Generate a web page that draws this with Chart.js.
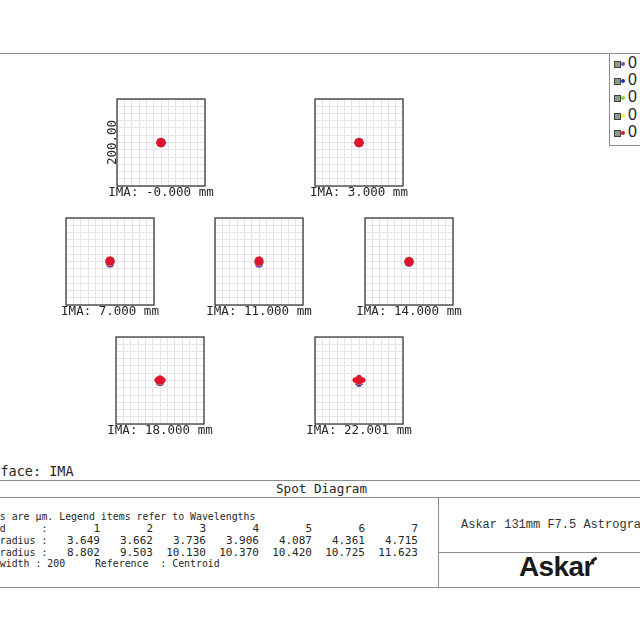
<!DOCTYPE html>
<html>
<head>
<meta charset="utf-8">
<script src="https://cdn.jsdelivr.net/npm/chart.js@4.4.1/dist/chart.umd.min.js"></script>
<style>
  html, body { margin: 0; padding: 0; background: #fff; }
  #page { position: relative; width: 640px; height: 640px; overflow: hidden; background: #fff;
          font-family: "DejaVu Sans Mono", monospace; color: #262626; }
  #page canvas { position: absolute; }
  .hl { position: absolute; height: 1px; background: #8c8c8c; }
  .vl { position: absolute; width: 1px; background: #8c8c8c; }
  .txt { position: absolute; white-space: pre; }
  #legend { position: absolute; left: 609px; top: 53px; width: 40px; height: 92px;
            border-left: 1px solid #8c8c8c; border-bottom: 1px solid #8c8c8c; }
  .li { position: absolute; left: 0; height: 16px; }
  .li .ico { position: absolute; left: 4px; top: 5px; width: 5px; height: 5px; background: #8f9a8f; border: 1px solid #3c443c; }
  .li .dot { position: absolute; left: 11px; top: 6px; width: 4px; height: 4px; border-radius: 50%; }
  .li .lab { position: absolute; left: 18px; top: -2px; width: 9.5px; overflow: hidden; white-space: nowrap;
             font: 16px "Liberation Sans", Arial, sans-serif; color: #222; }
  .row { position: absolute; left: 0; height: 12px; width: 440px; }
  .row .k { position: absolute; left: -24px; top: 0; white-space: pre; font: 9.9px/12px "DejaVu Sans Mono", monospace; }
  .row .n { position: absolute; top: 0; white-space: pre; text-align: right; width: 60px; font: 11px/12px "DejaVu Sans Mono", monospace; }
  #logo { position: absolute; left: 519px; top: 551px; font: bold 28px "Liberation Sans", Arial, sans-serif; color: #1a1a1a; letter-spacing: -0.6px; }
  #logo i { position: absolute; right: -3px; top: 7px; width: 6px; height: 2.5px; background: #1a1a1a; transform: rotate(-35deg); }
</style>
</head>
<body>
<div id="page">
  <div class="hl" style="left:0;top:53px;width:640px"></div>
  <div id="legend"></div>
  <div class="txt" style="left:-24px;top:463px;font-size:13.5px">Surface: IMA</div>
  <div class="hl" style="left:0;top:480px;width:640px"></div>
  <div class="txt" style="left:276px;top:481px;font-size:12.6px">Spot Diagram</div>
  <div class="hl" style="left:0;top:497px;width:640px"></div>
  <div class="vl" style="left:438px;top:497px;height:90px"></div>
  <div class="hl" style="left:438px;top:552px;width:202px"></div>
  <div class="hl" style="left:0;top:587px;width:640px"></div>
  <div id="info"></div>
  <div class="txt" style="left:461px;top:518px;font:12px 'Liberation Mono', monospace;color:#333">Askar 131mm F7.5 Astrograph</div>
  <div id="logo">Askar<i></i></div>
</div>
<script>
// wavelengths (legend) and their colours
const wavelengths = ["0.4358", "0.4861", "0.5461", "0.5876", "0.6563"];
const waveColors = ["#8a4bb0", "#1c2fb8", "#86d24a", "#f0f060", "#e0142c"];

// fields and summary numbers
const fieldLabels = ["-0.000", "3.000", "7.000", "11.000", "14.000", "18.000", "22.001"];
const rmsRadius = [3.649, 3.662, 3.736, 3.906, 4.087, 4.361, 4.715];
const geoRadius = [8.802, 9.503, 10.130, 10.370, 10.420, 10.725, 11.623];
const boxWidth = 200;

// ray hits in um per field: [purple, blue, green, yellow, red]
const spots0 = [
  [[0,0],[5,0],[-5,0],[0,5],[0,-5],[3.5,3.5],[-3.5,3.5],[3.5,-3.5],[-3.5,-3.5]],
  [[0,0],[4,0],[-4,0],[0,4],[0,-4],[3,3],[-3,3],[3,-3],[-3,-3]],
  [[0,0],[4,0],[-4,0],[0,4],[0,-4],[3,3],[-3,3],[3,-3],[-3,-3]],
  [[0,0],[4,0],[-4,0],[0,4],[0,-4],[3,3],[-3,3],[3,-3],[-3,-3]],
  [[0,0],[5,0],[-5,0],[0,5],[0,-5],[3.5,3.5],[-3.5,3.5],[3.5,-3.5],[-3.5,-3.5]]
];
const spots3 = [
  [[0,-1],[4,-1],[-4,-1],[0,3],[0,-5],[3,2],[-3,2],[3,-4],[-3,-4]],
  [[0,0],[4,0],[-4,0],[0,4],[0,-4],[3,3],[-3,3],[3,-3],[-3,-3]],
  [[0,0],[4,0],[-4,0],[0,4],[0,-4],[3,3],[-3,3],[3,-3],[-3,-3]],
  [[0,0],[4,0],[-4,0],[0,4],[0,-4],[3,3],[-3,3],[3,-3],[-3,-3]],
  [[0,0],[5,0],[-5,0],[0,5],[0,-5],[3.5,3.5],[-3.5,3.5],[3.5,-3.5],[-3.5,-3.5]]
];
const spots7 = [
  [[0,-3],[4,-3],[-4,-3],[0,1],[0,-7],[3,-6],[-3,-6],[2,-8],[-2,-8]],
  [[0,-1],[4,-1],[-4,-1],[0,3],[0,-5],[3,-4],[-3,-4]],
  [[0,0],[4,0],[-4,0],[0,4],[0,-4],[3,3],[-3,3],[3,-3],[-3,-3]],
  [[0,0],[4,0],[-4,0],[0,4],[0,-4],[3,3],[-3,3],[3,-3],[-3,-3]],
  [[0,1],[5,1],[-5,1],[0,6],[0,-4],[3.5,4.5],[-3.5,4.5],[3.5,-2.5],[-3.5,-2.5]]
];
const spots11 = [
  [[0,-3],[4,-3],[-4,-3],[0,1],[0,-7],[3,-6],[-3,-6],[2,-8],[-2,-8]],
  [[0,-1],[4,-1],[-4,-1],[0,3],[0,-5],[3,-4],[-3,-4]],
  [[0,0],[4,0],[-4,0],[0,4],[0,-4],[3,3],[-3,3],[3,-3],[-3,-3]],
  [[0,0],[4,0],[-4,0],[0,4],[0,-4],[3,3],[-3,3],[3,-3],[-3,-3]],
  [[0,1],[4.5,1],[-4.5,1],[0,6],[0,-4],[3,4.5],[-3,4.5],[3,-2.5],[-3,-2.5]]
];
const spots14 = [
  [[0,-2],[4,-2],[-4,-2],[0,2],[0,-6],[3,-5],[-3,-5]],
  [[0,-1],[4,-1],[-4,-1],[0,3],[0,-5],[3,-4],[-3,-4]],
  [[0,0],[4,0],[-4,0],[0,4],[0,-4],[3,3],[-3,3],[3,-3],[-3,-3]],
  [[0,0],[4,0],[-4,0],[0,4],[0,-4],[3,3],[-3,3],[3,-3],[-3,-3]],
  [[0,0],[5,0],[-5,0],[0,5],[0,-5],[3.5,3.5],[-3.5,3.5],[3.5,-3.5],[-3.5,-3.5]]
];
const spots18 = [
  [[0,-3],[4,-3],[-4,-3],[0,1],[0,-7],[3,-6],[-3,-6]],
  [[0,-1],[4,-1],[-4,-1],[0,3],[0,-5],[3,-4],[-3,-4]],
  [[0,0],[4,0],[-4,0],[0,4],[0,-4],[3,3],[-3,3],[3,-3],[-3,-3]],
  [[0,0],[4,0],[-4,0],[0,4],[0,-4],[3,3],[-3,3],[3,-3],[-3,-3]],
  [[0,1],[5,1],[-5,1],[0,6],[0,-4],[3.5,4],[-3.5,4],[3.5,-2.5],[-3.5,-2.5],[7,1],[-7,1]]
];
const spots22 = [
  [[0,-5],[3,-6],[-3,-6],[0,-9],[2,-3],[-2,-3],[0,-7]],
  [[0,-2],[4,-2],[-4,-2],[0,2],[0,-6],[3,-5],[-3,-5]],
  [[0,0],[4,0],[-4,0],[0,4],[0,-4],[3,3],[-3,3],[3,-3],[-3,-3]],
  [[0,0],[4,0],[-4,0],[0,4],[0,-4],[3,3],[-3,3],[3,-3],[-3,-3]],
  [[0,1],[6,1],[-6,1],[9,1],[-9,1],[0,7],[0,-4],[3,3],[-3,3],[3,-1],[-3,-1],[0,4]]
];
const fieldSpots = [spots0, spots3, spots7, spots11, spots14, spots18, spots22];

// layout of the spot boxes (top-left corners, px)
const boxPos = [[117, 99], [315, 99], [66, 218], [215, 218], [365, 218], [116, 337], [315, 337]];
const boxW = 88, boxH = 87, padL = 24, padR = 24, padT = 4, padB = 18;

const page = document.getElementById("page");

// legend
const legend = document.getElementById("legend");
wavelengths.forEach((w, i) => {
  const row = document.createElement("div");
  row.className = "li";
  row.style.top = (3 + i * 17.2) + "px";
  row.innerHTML = '<span class="ico"></span><span class="dot" style="background:' + waveColors[i] +
    '"></span><span class="lab">' + w + '</span>';
  legend.appendChild(row);
});

// info text: label part plus number columns
const info = document.getElementById("info");
function infoRow(top, label, values) {
  const r = document.createElement("div");
  r.className = "row";
  r.style.top = top + "px";
  let html = '<span class="k">' + label + '</span>';
  (values || []).forEach((v, i) => {
    html += '<span class="n" style="left:' + (100 - 60 + i * 53) + 'px">' + v + '</span>';
  });
  r.innerHTML = html;
  info.appendChild(r);
}
infoRow(511, "Units are \u00b5m. Legend items refer to Wavelengths");
infoRow(523, "Field      :", fieldLabels.map((f, i) => i + 1));
infoRow(535, "RMS radius :", rmsRadius.map(v => v.toFixed(3)));
infoRow(546.5, "GEO radius :", geoRadius.map(v => v.toFixed(3)));
infoRow(558, "Box width : " + boxWidth + "     Reference  : Centroid");

// box frame + labels
const spotDecor = {
  id: "spotDecor",
  afterDraw(chart, args, opts) {
    const { ctx, chartArea: a } = chart;
    ctx.save();
    ctx.strokeStyle = "#3a3a3a";
    ctx.lineWidth = 1.3;
    ctx.strokeRect(a.left, a.top, a.right - a.left, a.bottom - a.top);
    ctx.fillStyle = "#262626";
    ctx.font = "12.5px 'DejaVu Sans Mono', monospace";
    ctx.textAlign = "center";
    ctx.textBaseline = "middle";
    ctx.fillText(opts.label, (a.left + a.right) / 2, a.bottom + 7);
    if (opts.scaleLabel) {
      ctx.translate(a.left - 4, (a.top + a.bottom) / 2);
      ctx.rotate(-Math.PI / 2);
      ctx.fillText(opts.scaleLabel, 0, 0);
    }
    ctx.restore();
  }
};

fieldSpots.forEach((spots, f) => {
  const c = document.createElement("canvas");
  c.width = boxW + padL + padR;
  c.height = boxH + padT + padB;
  c.style.left = (boxPos[f][0] - padL) + "px";
  c.style.top = (boxPos[f][1] - padT) + "px";
  page.appendChild(c);

  const axis = {
    type: "linear", min: -boxWidth / 2, max: boxWidth / 2,
    ticks: { display: false, count: 13 },
    grid: { color: "#e4e4ea", lineWidth: 1, drawTicks: false },
    border: { display: false },
    afterFit(s) { if (s.isHorizontal()) s.height = 0; else s.width = 0; }
  };

  new Chart(c, {
    type: "scatter",
    data: {
      datasets: wavelengths.map((w, i) => ({
        label: w,
        data: spots[i].map(p => ({ x: p[0], y: p[1] })),
        backgroundColor: waveColors[i],
        borderColor: waveColors[i],
        pointRadius: 2.6,
        borderWidth: 0,
        order: wavelengths.length - 1 - i
      }))
    },
    options: {
      responsive: false,
      animation: false,
      events: [],
      layout: { padding: { left: padL, right: padR, top: padT, bottom: padB } },
      plugins: {
        legend: { display: false },
        tooltip: { enabled: false },
        spotDecor: { label: "IMA: " + fieldLabels[f] + " mm", scaleLabel: f === 0 ? boxWidth.toFixed(2) : null }
      },
      scales: { x: { ...axis }, y: { ...axis } }
    },
    plugins: [spotDecor]
  });
});
</script>
</body>
</html>
